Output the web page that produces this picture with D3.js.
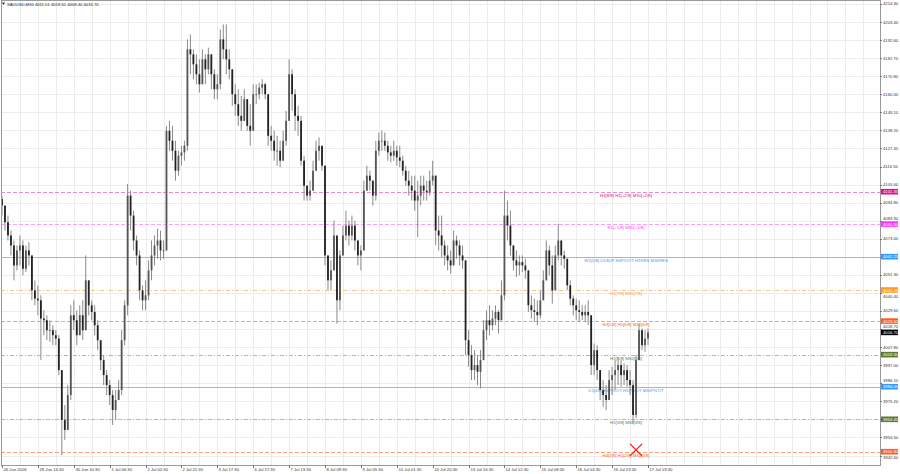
<!DOCTYPE html>
<html><head><meta charset="utf-8">
<script src="https://cdn.jsdelivr.net/npm/d3@7"></script>
<style>body{margin:0;background:#fff;overflow:hidden}svg{display:block}</style>
</head><body>
<svg id="c" width="900" height="474"></svg>
<script>
// ---------- data ----------
const title = "XAUUSD,M30  4011.01 4018.61 4008.40 4016.70";
const firstOpen = 4097;
const highs = [
4099,4093,4087,4078,4072,4069,4075,4072,4069,4071,
4063,4048,4045,4039,4030,4027,4024,4021,4018,4015,
3994,3973,3985,4033,4036,4030,4033,4036,4063,4048,
4036,4033,4024,4012,4003,3994,3988,3982,3982,3988,
4018,4036,4106,4102,4090,4075,4066,4045,4048,4060,
4072,4075,4079,4078,4072,4141,4144,4141,4132,4126,
4129,4132,4193,4196,4187,4184,4181,4187,4184,4188,
4184,4175,4172,4199,4202,4202,4187,4175,4166,4163,
4159,4163,4157,4154,4166,4166,4167,4169,4167,4160,
4141,4138,4135,4132,4138,4150,4181,4175,4163,4153,
4147,4123,4105,4108,4120,4132,4134,4129,4117,4063,
4060,4084,4072,4066,4081,4090,4084,4087,4084,4072,
4069,4108,4117,4114,4108,4132,4137,4138,4137,4132,
4129,4132,4129,4129,4123,4117,4114,4111,4111,4108,
4111,4111,4108,4114,4120,4093,4087,4087,4072,4069,
4066,4078,4075,4072,4069,4051,4018,4009,4006,4003,
4006,4024,4030,4033,4030,4033,4030,4048,4102,4096,
4090,4069,4066,4063,4063,4061,4045,4039,4037,4036,
4042,4054,4072,4069,4063,4069,4082,4072,4066,4060,
4048,4039,4037,4036,4033,4033,4036,4027,4010,4009,
3994,3988,3985,3994,3996,4000,4002,4000,3998,3997,
3994,3988,4003,4022,4019,4018,4019];
const lows = [
4087,4078,4072,4063,4048,4054,4057,4051,4053,4057,
4036,4033,4027,4000,4015,4012,4011,4009,4009,3991,
3943,3952,3961,3976,4018,4009,4018,4012,4030,4027,
4024,4015,4006,3994,3985,3979,3973,3961,3964,3976,
3979,4009,4027,4078,4066,4057,4036,4030,4030,4036,
4048,4057,4061,4060,4061,4066,4126,4120,4108,4111,
4117,4120,4126,4172,4169,4166,4161,4169,4166,4172,
4163,4157,4157,4163,4181,4172,4169,4153,4147,4141,
4138,4144,4138,4129,4138,4154,4157,4160,4157,4129,
4126,4120,4117,4116,4123,4129,4144,4150,4138,4135,
4117,4096,4096,4096,4102,4117,4120,4114,4057,4042,
4042,4054,4022,4030,4063,4072,4069,4072,4066,4057,
4054,4066,4102,4102,4093,4096,4123,4126,4126,4120,
4119,4120,4117,4116,4111,4105,4099,4096,4090,4074,
4093,4096,4096,4099,4105,4069,4066,4062,4057,4054,
4052,4060,4061,4057,4055,4003,3996,3988,3988,3985,
3983,4000,4012,4015,4018,4021,4016,4024,4036,4072,
4063,4054,4050,4051,4053,4049,4029,4025,4023,4021,
4025,4036,4048,4051,4034,4042,4060,4057,4055,4042,
4033,4027,4024,4023,4024,4023,4021,3991,3991,3988,
3976,3972,3970,3976,3979,3982,3985,3984,3985,3984,
3979,3962,3965,4000,4006,4005,4009];
const closes = [
4093,4083,4075,4069,4057,4066,4069,4055,4066,4063,
4042,4037,4036,4025,4024,4018,4018,4015,4013,3994,
3964,3958,3979,4027,4024,4015,4027,4018,4048,4033,
4029,4021,4012,4000,3991,3985,3979,3970,3976,3982,
4012,4033,4099,4087,4072,4063,4042,4036,4039,4054,
4063,4069,4072,4066,4066,4138,4132,4126,4114,4123,
4125,4129,4187,4184,4178,4172,4166,4181,4175,4184,
4172,4163,4166,4193,4187,4181,4175,4160,4154,4147,
4144,4157,4141,4138,4160,4160,4164,4166,4160,4135,
4132,4126,4126,4120,4132,4144,4172,4160,4147,4144,
4120,4105,4099,4102,4114,4126,4129,4117,4063,4048,
4054,4075,4036,4063,4075,4081,4075,4081,4072,4063,
4066,4102,4111,4108,4099,4126,4132,4132,4129,4125,
4123,4126,4122,4120,4114,4108,4105,4102,4096,4099,
4105,4102,4101,4108,4111,4078,4075,4069,4063,4060,
4057,4072,4069,4063,4060,4012,4003,3994,3997,3993,
4000,4018,4024,4021,4025,4029,4024,4039,4087,4081,
4069,4060,4057,4059,4057,4054,4033,4030,4029,4027,
4036,4048,4066,4057,4042,4063,4072,4063,4061,4045,
4037,4033,4030,4029,4027,4029,4027,3997,4006,3994,
3982,3979,3976,3988,3991,3994,3997,3991,3994,3988,
3985,3967,4000,4018,4009,4013,4016.7];

const timeLabels = ["26 Jun 2026","29 Jun 14:30","30 Jun 10:30","1 Jul 06:30","2 Jul 02:30",
  "2 Jul 21:30","3 Jul 17:30","6 Jul 17:30","7 Jul 13:30","8 Jul 09:30","9 Jul 05:30",
  "10 Jul 01:30","10 Jul 20:30","13 Jul 16:30","14 Jul 12:30","15 Jul 08:30","16 Jul 04:30",
  "16 Jul 23:30","17 Jul 19:30"];
const barsPerLabel = 12;

const priceTicks = [4214.30,4203.40,4192.60,4181.70,4170.80,4160.00,4149.10,4138.20,4127.40,
  4116.50,4105.60,4094.80,4083.90,4073.00,4062.10,4051.30,4040.40,4029.60,4018.70,4007.80,
  3997.00,3986.10,3975.20,3964.40,3953.50,3942.60];

const levelPrices = [4101.35,4081.90,4062.25,4042.20,4023.50,4003.30,3984.00,3964.40,3944.90];
const levelTexts = ["H4[8/8] H1[+2/8] M30[+2/8]","H1[+1/8] M30[+1/8]",
  "W1[5/8] D1SUP H4PIVOT H1RES M30RES","H1[7/8] M30[7/8]","H4[5/8] H1[6/8] M30[6/8]",
  "H1[5/8] M30[5/8]","D1[4/8] H4PIVOT H1PIVOT M30PIVOT","H1[3/8] M30[3/8]","H4[3/8] H1[2/8] M30[2/8]"];
const currentPrice = 4016.70;
const crossMark = {index: 212, price: 3946};

// ---------- styles ----------
const levelColors = ["#e0108c","#ff33ff","#3399ff","#ff9922","#ff5a28","#5f7a2a","#3399ff","#5f7a2a","#ff5a28"];
const levelLineColors = ["#ec8cc4","#f9a0f9","#86bff5","#f8c489","#f7a184","#b3bd98","#86bff5","#b3bd98","#f7a184"];
const levelDash = ["4,2","4,2",null,"4,2,1,2","4,2","4,2,1,2",null,"4,2,1,2","4,2"];

// ---------- chart ----------
const W = 900, H = 474;
const L = 1, R = 880, T = 1, B = 465;
const svg = d3.select("#c");
const font = "'Liberation Sans', Arial, sans-serif";

const x = d3.scaleLinear().domain([0, closes.length - 1]).range([2, 648]);
const y = d3.scaleLinear().domain([3936.9, 4216.1]).range([B, T]);

svg.append("rect").attr("width", W).attr("height", H).attr("fill", "#fff");

// grid
const g = svg.append("g");
g.selectAll("line.h").data(priceTicks).join("line")
  .attr("x1", L).attr("x2", R).attr("y1", d => Math.round(y(d)) + 0.5).attr("y2", d => Math.round(y(d)) + 0.5)
  .attr("stroke", "#ececec").attr("stroke-width", 1);
const vIdx = d3.range(6, 296, 6);
g.selectAll("line.v").data(vIdx.filter(i => x(i) < R)).join("line")
  .attr("y1", T).attr("y2", B).attr("x1", d => Math.round(x(d)) + 0.5).attr("x2", d => Math.round(x(d)) + 0.5)
  .attr("stroke", "#ececec").attr("stroke-width", 1);

// level lines
const lv = svg.append("g");
levelPrices.forEach((p, i) => {
  lv.append("line").attr("x1", L).attr("x2", R)
    .attr("y1", Math.round(y(p)) + 0.5).attr("y2", Math.round(y(p)) + 0.5)
    .attr("stroke", levelLineColors[i]).attr("stroke-width", 1)
    .attr("stroke-dasharray", levelDash[i]);
});

// candles
const data = closes.map((c, i) => {
  const o = i === 0 ? firstOpen : closes[i - 1];
  return {i, o, c, h: Math.max(highs[i], o, c), l: Math.min(lows[i], o, c)};
});
const cg = svg.append("g");
cg.selectAll("line.w").data(data).join("line")
  .attr("x1", d => x(d.i)).attr("x2", d => x(d.i))
  .attr("y1", d => y(d.h)).attr("y2", d => y(d.l))
  .attr("stroke", "#8a8a8a").attr("stroke-width", 1);
cg.selectAll("rect.b").data(data).join("rect")
  .attr("x", d => x(d.i) - 0.9).attr("width", 1.8)
  .attr("y", d => y(Math.max(d.o, d.c)))
  .attr("height", d => Math.max(0.8, Math.abs(y(d.o) - y(d.c))))
  .attr("fill", d => d.c >= d.o ? "#555" : "#222");

// level texts
levelPrices.forEach((p, i) => {
  lv.append("text").attr("x", 626).attr("y", y(p) + 5)
    .attr("text-anchor", "middle").attr("font-family", font).attr("font-size", 4.3)
    .attr("fill", levelColors[i]).text(levelTexts[i]);
});

// cross mark
const cx = x(crossMark.index), cy = y(crossMark.price);
svg.append("path").attr("d", `M${cx-6},${cy-6}L${cx+6},${cy+6}M${cx+6},${cy-6}L${cx-6},${cy+6}`)
  .attr("stroke", "#ff1a1a").attr("stroke-width", 1.4).attr("fill", "none");

// frame
svg.append("rect").attr("x", L + 0.5).attr("y", 0.5).attr("width", R - L).attr("height", B)
  .attr("fill", "none").attr("stroke", "#9a9a9a").attr("stroke-width", 1);

// price axis
const boxPrices = levelPrices.concat([currentPrice]);
const boxColors = levelColors.concat(["#000"]);
const ax = svg.append("g");
ax.selectAll("line").data(priceTicks).join("line")
  .attr("x1", R).attr("x2", R + 2).attr("y1", d => Math.round(y(d)) + 0.5).attr("y2", d => Math.round(y(d)) + 0.5)
  .attr("stroke", "#777");
// nudge tick labels that sit right next to a level box
function labelY(d) {
  let yy = y(d);
  boxPrices.forEach(bp => {
    const dy = yy - y(bp);
    if (Math.abs(dy) > 1.5 && Math.abs(dy) < 6) yy = y(bp) + Math.sign(dy) * 6;
  });
  return yy;
}
ax.selectAll("text").data(priceTicks).join("text")
  .attr("x", R + 3).attr("y", d => labelY(d) + 1.5)
  .attr("font-family", font).attr("font-size", 4.2).attr("fill", "#333")
  .text(d => d3.format(".2f")(d));

// level boxes on axis
boxPrices.forEach((p, i) => {
  const yy = y(p);
  ax.append("rect").attr("x", R + 1).attr("y", yy - 2.8).attr("width", 17).attr("height", 5.6).attr("fill", boxColors[i]);
  ax.append("text").attr("x", R + 3).attr("y", yy + 1.5)
    .attr("font-family", font).attr("font-size", 4.2).attr("fill", "#fff")
    .text(d3.format(".2f")(p));
});

// time axis
const tx = svg.append("g");
timeLabels.forEach((t, k) => {
  const xx = Math.round(x(k * barsPerLabel)) + 0.5;
  tx.append("line").attr("x1", xx).attr("x2", xx).attr("y1", B).attr("y2", B + 3).attr("stroke", "#777");
  tx.append("text").attr("x", xx + 1).attr("y", B + 6.3)
    .attr("font-family", font).attr("font-size", 4.2).attr("fill", "#333").text(t);
});

// title
svg.append("path").attr("d", "M2,2.5L5,2.5L3.5,5Z").attr("fill", "#333");
svg.append("text").attr("x", 7).attr("y", 5.5).attr("font-family", font).attr("font-size", 4.2)
  .attr("fill", "#222").text(title);
</script>
</body></html>
